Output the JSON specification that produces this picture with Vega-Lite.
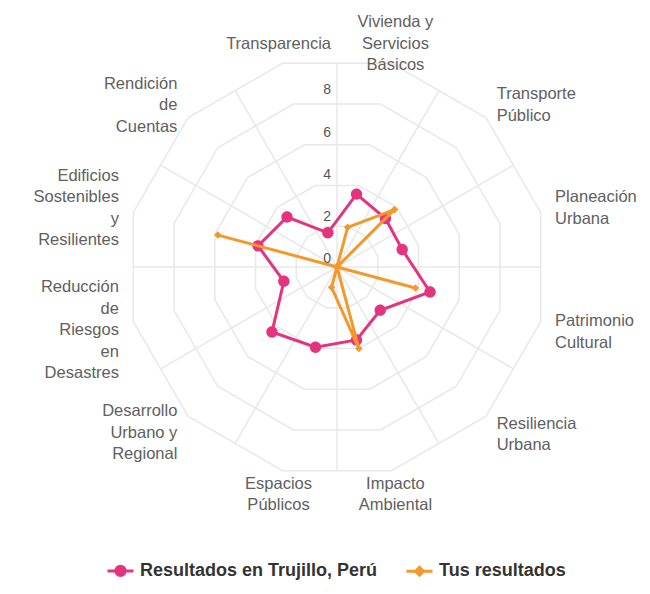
{
  "$schema": "https://vega.github.io/schema/vega-lite/v6.json",
  "width": 506,
  "height": 506,
  "autosize": {"type": "none"},
  "padding": {"left": 84, "top": 14, "right": 60, "bottom": 74},
  "background": "white",
  "config": {"view": {"stroke": null}, "font": "Liberation Sans"},
  "datasets": {
    "axes": [
      {"idx": 0, "eje": "Vivienda y Servicios Básicos", "lines": ["Vivienda y", "Servicios", "Básicos"]},
      {"idx": 1, "eje": "Transporte Público", "lines": ["Transporte", "Público"]},
      {"idx": 2, "eje": "Planeación Urbana", "lines": ["Planeación", "Urbana"]},
      {"idx": 3, "eje": "Patrimonio Cultural", "lines": ["Patrimonio", "Cultural"]},
      {"idx": 4, "eje": "Resiliencia Urbana", "lines": ["Resiliencia", "Urbana"]},
      {"idx": 5, "eje": "Impacto Ambiental", "lines": ["Impacto", "Ambiental"]},
      {"idx": 6, "eje": "Espacios Públicos", "lines": ["Espacios", "Públicos"]},
      {"idx": 7, "eje": "Desarrollo Urbano y Regional", "lines": ["Desarrollo", "Urbano y", "Regional"]},
      {"idx": 8, "eje": "Reducción de Riesgos en Desastres", "lines": ["Reducción", "de", "Riesgos", "en", "Desastres"]},
      {"idx": 9, "eje": "Edificios Sostenibles y Resilientes", "lines": ["Edificios", "Sostenibles", "y", "Resilientes"]},
      {"idx": 10, "eje": "Rendición de Cuentas", "lines": ["Rendición", "de", "Cuentas"]},
      {"idx": 11, "eje": "Transparencia", "lines": ["Transparencia"]}
    ],
    "rings": [
      {"level": 2, "idx": [0, 1, 2, 3, 4, 5, 6, 7, 8, 9, 10, 11]},
      {"level": 4, "idx": [0, 1, 2, 3, 4, 5, 6, 7, 8, 9, 10, 11]},
      {"level": 6, "idx": [0, 1, 2, 3, 4, 5, 6, 7, 8, 9, 10, 11]},
      {"level": 8, "idx": [0, 1, 2, 3, 4, 5, 6, 7, 8, 9, 10, 11]},
      {"level": 10, "idx": [0, 1, 2, 3, 4, 5, 6, 7, 8, 9, 10, 11]}
    ],
    "ticks": [{"tick": 0}, {"tick": 2}, {"tick": 4}, {"tick": 6}, {"tick": 8}],
    "scores": [
      {"idx": 0, "eje": "Vivienda y Servicios Básicos", "serie": "Resultados en Trujillo, Perú", "valor": 3.58},
      {"idx": 1, "eje": "Transporte Público", "serie": "Resultados en Trujillo, Perú", "valor": 3.25},
      {"idx": 2, "eje": "Planeación Urbana", "serie": "Resultados en Trujillo, Perú", "valor": 3.2},
      {"idx": 3, "eje": "Patrimonio Cultural", "serie": "Resultados en Trujillo, Perú", "valor": 4.57},
      {"idx": 4, "eje": "Resiliencia Urbana", "serie": "Resultados en Trujillo, Perú", "valor": 2.9},
      {"idx": 5, "eje": "Impacto Ambiental", "serie": "Resultados en Trujillo, Perú", "valor": 3.58},
      {"idx": 6, "eje": "Espacios Públicos", "serie": "Resultados en Trujillo, Perú", "valor": 3.94},
      {"idx": 7, "eje": "Desarrollo Urbano y Regional", "serie": "Resultados en Trujillo, Perú", "valor": 4.36},
      {"idx": 8, "eje": "Reducción de Riesgos en Desastres", "serie": "Resultados en Trujillo, Perú", "valor": 2.61},
      {"idx": 9, "eje": "Edificios Sostenibles y Resilientes", "serie": "Resultados en Trujillo, Perú", "valor": 3.88},
      {"idx": 10, "eje": "Rendición de Cuentas", "serie": "Resultados en Trujillo, Perú", "valor": 3.35},
      {"idx": 11, "eje": "Transparencia", "serie": "Resultados en Trujillo, Perú", "valor": 1.68},
      {"idx": 0, "eje": "Vivienda y Servicios Básicos", "serie": "Tus resultados", "valor": 1.95},
      {"idx": 1, "eje": "Transporte Público", "serie": "Tus resultados", "valor": 3.85},
      {"idx": 2, "eje": "Planeación Urbana", "serie": "Tus resultados", "valor": 0},
      {"idx": 3, "eje": "Patrimonio Cultural", "serie": "Tus resultados", "valor": 3.85},
      {"idx": 4, "eje": "Resiliencia Urbana", "serie": "Tus resultados", "valor": 0},
      {"idx": 5, "eje": "Impacto Ambiental", "serie": "Tus resultados", "valor": 4.0},
      {"idx": 6, "eje": "Espacios Públicos", "serie": "Tus resultados", "valor": 1.0},
      {"idx": 7, "eje": "Desarrollo Urbano y Regional", "serie": "Tus resultados", "valor": 0},
      {"idx": 8, "eje": "Reducción de Riesgos en Desastres", "serie": "Tus resultados", "valor": 0},
      {"idx": 9, "eje": "Edificios Sostenibles y Resilientes", "serie": "Tus resultados", "valor": 5.85},
      {"idx": 10, "eje": "Rendición de Cuentas", "serie": "Tus resultados", "valor": 0},
      {"idx": 11, "eje": "Transparencia", "serie": "Tus resultados", "valor": 0}
    ]
  },
  "encoding": {
    "x": {"field": "px", "type": "quantitative", "scale": {"domain": [-12, 12]}, "axis": null},
    "y": {"field": "py", "type": "quantitative", "scale": {"domain": [-12, 12]}, "axis": null}
  },
  "layer": [
    {
      "data": {"name": "rings"},
      "transform": [
        {"flatten": ["idx"]},
        {"calculate": "(datum.idx * 30 + 15) * PI / 180", "as": "ang"},
        {"calculate": "datum.level * sin(datum.ang)", "as": "px"},
        {"calculate": "datum.level * cos(datum.ang)", "as": "py"}
      ],
      "mark": {"type": "line", "interpolate": "linear-closed", "stroke": "#e8e8e8", "strokeWidth": 1.5},
      "encoding": {"detail": {"field": "level"}, "order": {"field": "idx", "type": "quantitative"}}
    },
    {
      "data": {"name": "axes"},
      "transform": [
        {"calculate": "datum.idx * 30 * PI / 180", "as": "ang"},
        {"calculate": "9.66 * sin(datum.ang)", "as": "px"},
        {"calculate": "9.66 * cos(datum.ang)", "as": "py"}
      ],
      "mark": {"type": "rule", "stroke": "#e8e8e8", "strokeWidth": 1.5},
      "encoding": {
        "x": {"datum": 0, "type": "quantitative"},
        "y": {"datum": 0, "type": "quantitative"},
        "x2": {"field": "px"},
        "y2": {"field": "py"}
      }
    },
    {
      "data": {"name": "ticks"},
      "transform": [
        {"calculate": "0", "as": "px"},
        {"calculate": "datum.tick", "as": "py"}
      ],
      "mark": {"type": "text", "align": "right", "baseline": "middle", "dx": -6, "dy": -8, "fontSize": 14, "fill": "#555555"},
      "encoding": {"text": {"field": "tick", "type": "quantitative"}}
    },
    {
      "data": {"name": "axes"},
      "transform": [
        {"filter": "datum.idx == 0 || datum.idx == 5 || datum.idx == 6 || datum.idx == 11"},
        {"calculate": "(datum.idx * 30 + 15) * PI / 180", "as": "ang"},
        {"calculate": "10.71 * sin(datum.ang)", "as": "px"},
        {"calculate": "(cos(datum.ang) > 0 ? 10.95 * cos(datum.ang) : 10.85 * cos(datum.ang) - 0.3) + (length(datum.lines) - 1) * 0.51", "as": "py"}
      ],
      "mark": {"type": "text", "align": "center", "baseline": "middle", "fontSize": 16.5, "lineHeight": 21.5, "fill": "#606060"},
      "encoding": {"text": {"field": "lines"}}
    },
    {
      "data": {"name": "axes"},
      "transform": [
        {"filter": "datum.idx >= 1 && datum.idx <= 4"},
        {"calculate": "(datum.idx * 30 + 15) * PI / 180", "as": "ang"},
        {"calculate": "10.71 * sin(datum.ang)", "as": "px"},
        {"calculate": "(cos(datum.ang) > 0 ? 10.85 * cos(datum.ang) : 10.85 * cos(datum.ang) - 0.27) + (length(datum.lines) - 1) * 0.51", "as": "py"}
      ],
      "mark": {"type": "text", "align": "left", "baseline": "middle", "fontSize": 16.5, "lineHeight": 21.5, "fill": "#606060"},
      "encoding": {"text": {"field": "lines"}}
    },
    {
      "data": {"name": "axes"},
      "transform": [
        {"filter": "datum.idx >= 7 && datum.idx <= 10"},
        {"calculate": "(datum.idx * 30 + 15) * PI / 180", "as": "ang"},
        {"calculate": "10.71 * sin(datum.ang)", "as": "px"},
        {"calculate": "(cos(datum.ang) > 0 ? 10.85 * cos(datum.ang) : 10.85 * cos(datum.ang) - 0.2) + (length(datum.lines) - 1) * 0.51", "as": "py"}
      ],
      "mark": {"type": "text", "align": "right", "baseline": "middle", "fontSize": 16.5, "lineHeight": 21.5, "fill": "#606060"},
      "encoding": {"text": {"field": "lines"}}
    },
    {
      "data": {"name": "scores"},
      "transform": [
        {"filter": "datum.serie == 'Resultados en Trujillo, Perú'"},
        {"calculate": "(datum.idx * 30 + 15) * PI / 180", "as": "ang"},
        {"calculate": "datum.valor * sin(datum.ang)", "as": "px"},
        {"calculate": "datum.valor * cos(datum.ang)", "as": "py"}
      ],
      "mark": {"type": "line", "interpolate": "linear-closed", "strokeWidth": 3},
      "encoding": {
        "order": {"field": "idx", "type": "quantitative"},
        "color": {
          "field": "serie",
          "type": "nominal",
          "scale": {"domain": ["Resultados en Trujillo, Perú", "Tus resultados"], "range": ["#e5347f", "#f5982b"]},
          "legend": {
            "title": null,
            "orient": "none",
            "direction": "horizontal",
            "legendX": 22,
            "legendY": 542,
            "padding": 0,
            "symbolSize": 676,
            "symbolStrokeWidth": 3,
            "labelFont": "Liberation Sans",
            "labelFontSize": 18,
            "labelFontWeight": "bold",
            "labelColor": "#333333",
            "labelOffset": 5,
            "labelLimit": 400,
            "columnPadding": 22
          }
        }
      }
    },
    {
      "data": {"name": "scores"},
      "transform": [
        {"filter": "datum.serie == 'Resultados en Trujillo, Perú'"},
        {"calculate": "(datum.idx * 30 + 15) * PI / 180", "as": "ang"},
        {"calculate": "datum.valor * sin(datum.ang)", "as": "px"},
        {"calculate": "datum.valor * cos(datum.ang)", "as": "py"}
      ],
      "mark": {"type": "point", "filled": true, "opacity": 1, "size": 1000},
      "encoding": {
        "color": {"field": "serie", "type": "nominal"},
        "shape": {
          "field": "serie",
          "type": "nominal",
          "scale": {
            "domain": ["Resultados en Trujillo, Perú", "Tus resultados"],
            "range": ["M-1,0H1M-0.36,0A0.36,0.36,0,1,0,0.36,0A0.36,0.36,0,1,0,-0.36,0Z", "M-1,0H1M-0.3,0L0,-0.3L0.3,0L0,0.3Z"]
          },
          "legend": {"title": null, "orient": "none"}
        }
      }
    },
    {
      "data": {"name": "scores"},
      "transform": [
        {"filter": "datum.serie == 'Tus resultados'"},
        {"calculate": "(datum.idx * 30 + 15) * PI / 180", "as": "ang"},
        {"calculate": "datum.valor * sin(datum.ang)", "as": "px"},
        {"calculate": "datum.valor * cos(datum.ang)", "as": "py"}
      ],
      "mark": {"type": "line", "interpolate": "linear-closed", "strokeWidth": 3},
      "encoding": {
        "order": {"field": "idx", "type": "quantitative"},
        "color": {"field": "serie", "type": "nominal"}
      }
    },
    {
      "data": {"name": "scores"},
      "transform": [
        {"filter": "datum.serie == 'Tus resultados'"},
        {"calculate": "(datum.idx * 30 + 15) * PI / 180", "as": "ang"},
        {"calculate": "datum.valor * sin(datum.ang)", "as": "px"},
        {"calculate": "datum.valor * cos(datum.ang)", "as": "py"}
      ],
      "mark": {"type": "point", "filled": true, "opacity": 1, "size": 640},
      "encoding": {
        "color": {"field": "serie", "type": "nominal"},
        "shape": {"field": "serie", "type": "nominal"}
      }
    }
  ]
}
